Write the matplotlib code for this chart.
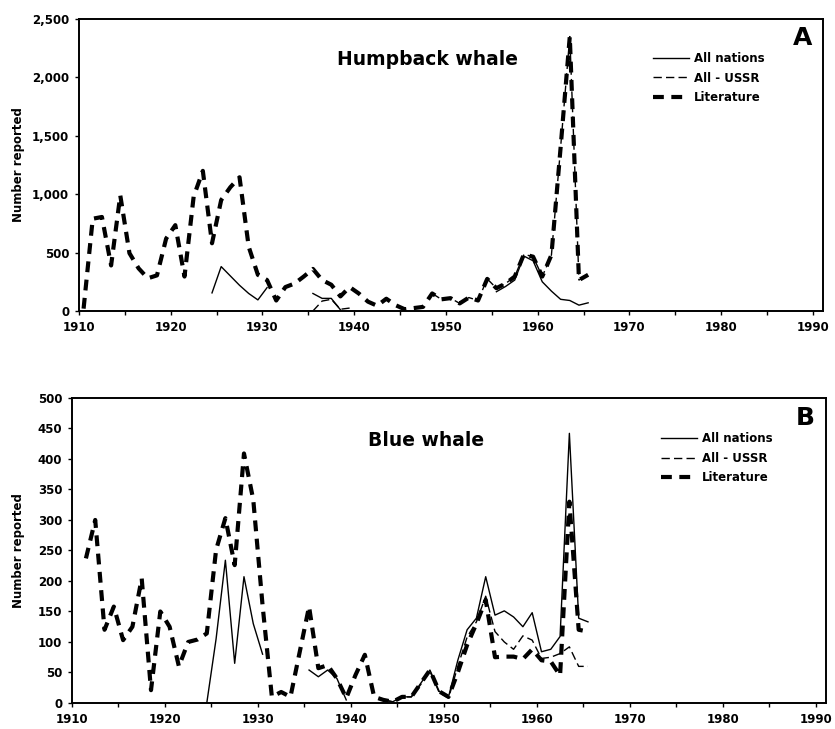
import numpy as np
import matplotlib
matplotlib.use("Agg")
import matplotlib.pyplot as plt
from matplotlib.ticker import FuncFormatter, MultipleLocator

# ---- data: humpback whale (panel A) ----
hump_years = np.arange(1910, 1966)
hump_lit = [20, 790, 805, 390, 990, 495, 365, 280, 305, 620,
            735, 295, 980, 1200, 580, 950, 1060, 1145, 550, 310,
            265, 90, 205, 235, 295, 360, 265, 225, 125, 205,
            150, 80, 45, 105, 50, 15, 25, 35, 150, 100,
            110, 65, 115, 90, 275, 195, 235, 295, 485, 465,
            295, 480, 1400, 2350, 265, 310]
nan = np.nan
hump_all = [nan] * 14 + [155, 380, 300, 220, 150, 95, 200] + [nan] * 4 + \
    [150, 108, 108, 10] + [nan] * 16 + \
    [165, 210, 265, 470, 430, 250, 170, 100, 90, 50, 70]
hump_ussr = [nan] * 25 + [0, 85, 100, 15, 25] + [nan] * 8 + \
    [150, 100, 110, 65, 115, 90, 275, 195, 235, 295, 485, 465,
     295, 480, 1400, 2350, 265, 310]

# ---- data: blue whale (panel B) ----
blue_years = np.arange(1911, 1966)
blue_lit = [237, 300, 120, 158, 103, 125, 204, 21, 150,
            125, 60, 100, 104, 114, 251, 303, 226, 409, 333,
            160, 10, 18, 10, 84, 158, 57, 62, 40, 8,
            46, 79, 10, 5, 2, 10, 10, 32, 54, 19,
            10, 50, 95, 130, 169, 75, 76, 76, 72, 88,
            70, 68, 45, 330, 120, 117]
blue_all = [nan] * 13 + [0, 105, 234, 65, 207, 130, 80] + [nan] * 4 + \
    [54, 43, 54, 40, 5] + [nan] * 3 + \
    [5, 2, 10, 10, 32, 54, 19, 10, 70, 120, 139, 207, 144, 151, 141,
     125, 148, 84, 88, 109, 442, 139, 133]
blue_ussr = [nan] * 32 + \
    [5, 2, 10, 10, 30, 52, 17, 8, 60, 108, 133, 175, 117, 100, 88,
     110, 103, 73, 75, 81, 92, 60, 60]

plt.rcParams['font.family'] = ['DejaVu Sans']
plt.rcParams['font.weight'] = 'bold'

fig = plt.figure(figsize=(8.35, 7.29), dpi=100)
axA = fig.add_axes([0.0946, 0.5734, 0.891, 0.4005])
axB = fig.add_axes([0.0862, 0.0357, 0.903, 0.4184])

thin = dict(color='black', lw=1.0)
ussr = dict(color='black', lw=1.0, dashes=(6, 3))
lit = dict(color='black', lw=3.0, dashes=(2.6, 1.8))


def draw(ax, years, all_n, all_u, lit_v, ymax, ystep, title, tx, letter, lx):
    x = years + 0.5  # points sit mid-year
    ax.plot(x, lit_v, label='Literature', **lit)
    ax.plot(x, all_u, label='All - USSR', **ussr)
    ax.plot(x, all_n, label='All nations', **thin)
    ax.set_xlim(1910, 1991.1)
    ax.set_ylim(0, ymax)
    ax.xaxis.set_major_locator(MultipleLocator(10))
    ax.xaxis.set_minor_locator(MultipleLocator(5))
    ax.yaxis.set_major_locator(MultipleLocator(ystep))
    ax.yaxis.set_major_formatter(FuncFormatter(lambda v, p: f"{int(v):,}"))
    ax.tick_params(labelsize=8.5, length=3, width=1, pad=4)
    ax.tick_params(which='minor', length=3, width=1)
    for s in ax.spines.values():
        s.set_linewidth(1.4)
    ax.set_ylabel('Number reported', fontsize=8.5, fontweight='bold')
    ax.text(tx, 0.86, title, transform=ax.transAxes, fontsize=13.5,
            fontweight='bold', ha='center', va='center')
    ax.text(0.985, 0.935, letter, transform=ax.transAxes, fontsize=18,
            fontweight='heavy', ha='right', va='center')
    h, l = ax.get_legend_handles_labels()
    order = [2, 1, 0]
    ax.legend([h[i] for i in order], [l[i] for i in order],
              loc='upper left', bbox_to_anchor=(lx, 0.915),
              frameon=False, fontsize=8.5, handlelength=3.1,
              handletextpad=0.4, labelspacing=0.55, borderpad=0.2)


draw(axA, hump_years, hump_all, hump_ussr, hump_lit, 2500, 500,
     'Humpback whale', 0.469, 'A', 0.76)
draw(axB, blue_years, blue_all, blue_ussr, blue_lit, 500, 50,
     'Blue whale', 0.47, 'B', 0.77)
axA.yaxis.set_label_coords(-0.072, 0.5)
axB.yaxis.set_label_coords(-0.062, 0.5)

fig.savefig('out.png', dpi=100)
